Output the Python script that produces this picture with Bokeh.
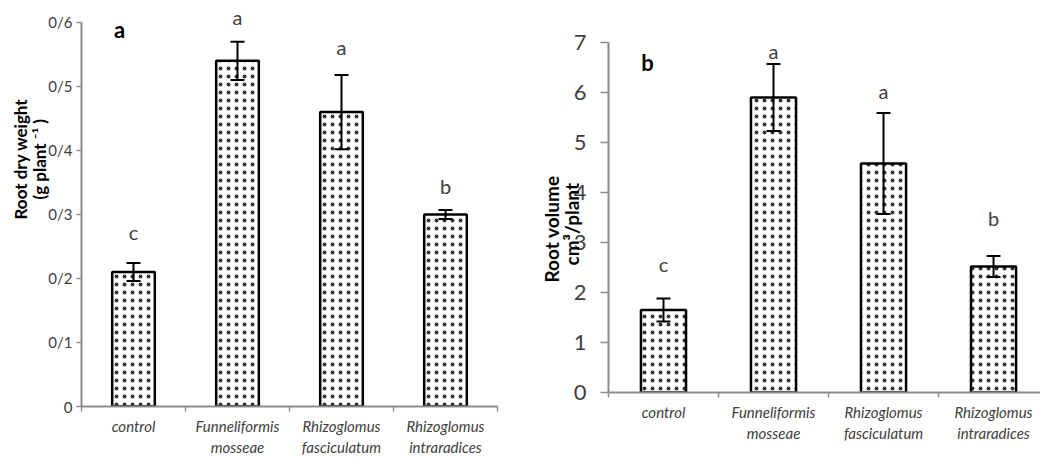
import math
from bokeh.plotting import figure
from bokeh.models import ColumnDataSource, Whisker, TeeHead, FixedTicker, Label, Range1d, Title
from bokeh.layouts import row, column
from bokeh.embed import file_html
from bokeh.resources import INLINE

# ---- data ----
categories = ["control", "Funneliformis\nmosseae", "Rhizoglomus\nfasciculatum", "Rhizoglomus\nintraradices"]
cat_pos = [0.5, 1.5, 2.5, 3.5]

dry_weight = [0.21, 0.54, 0.46, 0.30]
dry_weight_err = [0.014, 0.030, 0.058, 0.007]
dry_weight_letters = ["c", "a", "a", "b"]
dry_weight_letter_y = [0.273, 0.608, 0.562, 0.345]
dry_ticks = [0, 0.1, 0.2, 0.3, 0.4, 0.5, 0.6]
dry_tick_labels = ["0", "0/1", "0/2", "0/3", "0/4", "0/5", "0/6"]

volume = [1.65, 5.90, 4.58, 2.52]
volume_err = [0.23, 0.67, 1.01, 0.21]
volume_letters = ["c", "a", "a", "b"]
volume_letter_y = [2.58, 6.84, 6.04, 3.50]
vol_ticks = [0, 1, 2, 3, 4, 5, 6, 7]
vol_tick_labels = ["0", "1", "2", "3", "4", "5", "6", "7"]

FONT = "Lato"
AXIS_GRAY = "#8c8c8c"
TEXT = "#404040"
FRAME_TOP = 5


def make_panel(vals, errs, letters, letter_y, ticks, tick_labels, ymax, y0_px, ytop_px,
               xmax, width, left, right, tick_font, tick_out, tick_standoff,
               ylab_lines, ylab_offsets, ylab_font, ylab_standoffs, ylab_valign,
               panel_letter, panel_xy):
    scale = (y0_px - ytop_px) / ymax
    yhi = (y0_px - FRAME_TOP) / scale
    p = figure(width=width, height=459, output_backend="svg", toolbar_location=None,
               x_range=Range1d(0, xmax), y_range=Range1d(0, yhi),
               min_border_left=left, min_border_right=right,
               min_border_top=FRAME_TOP, min_border_bottom=459 - y0_px)
    p.outline_line_color = None
    p.grid.visible = False

    src = ColumnDataSource(dict(x=cat_pos, top=vals,
                                upper=[v + e for v, e in zip(vals, errs)],
                                lower=[v - e for v, e in zip(vals, errs)]))
    p.vbar(x="x", top="top", bottom=0, width=0.41, source=src, fill_color="white",
           line_color="black", line_width=2.5,
           hatch_pattern="dot", hatch_color="#333333", hatch_scale=8, hatch_weight=1.1)
    w = Whisker(base="x", upper="upper", lower="lower", source=src,
                line_color="black", line_width=2,
                upper_head=TeeHead(size=14, line_width=2, line_color="black"),
                lower_head=TeeHead(size=14, line_width=2, line_color="black"))
    w.level = "annotation"
    p.add_layout(w)

    for x, ly, t in zip(cat_pos, letter_y, letters):
        p.add_layout(Label(x=x, y=ly, text=t, text_align="center", text_baseline="middle",
                           text_font=FONT, text_font_size="20px", text_color=TEXT))

    # x axis
    xa = p.xaxis[0]
    xa.ticker = FixedTicker(ticks=cat_pos, minor_ticks=[0, 1, 2, 3, 4])
    xa.major_label_overrides = {c: lab for c, lab in zip(cat_pos, categories)}
    xa.major_tick_out = 0
    xa.major_tick_in = 0
    xa.minor_tick_out = 5
    xa.minor_tick_in = 0
    xa.minor_tick_line_color = AXIS_GRAY
    xa.minor_tick_line_width = 1.5
    xa.axis_line_color = AXIS_GRAY
    xa.axis_line_width = 2
    xa.major_label_text_font = FONT
    xa.major_label_text_font_style = "italic"
    xa.major_label_text_font_size = "15px"
    xa.major_label_text_color = TEXT
    xa.major_label_standoff = 5

    # y axis
    ya = p.yaxis[0]
    ya.bounds = (0, ymax)
    ya.ticker = FixedTicker(ticks=ticks)
    ya.major_label_overrides = {t: lab for t, lab in zip(ticks, tick_labels)}
    ya.minor_tick_out = 0
    ya.minor_tick_in = 0
    ya.major_tick_out = tick_out
    ya.major_tick_in = 0
    ya.major_tick_line_color = AXIS_GRAY
    ya.major_tick_line_width = 1.5
    ya.axis_line_color = AXIS_GRAY
    ya.axis_line_width = 2
    ya.major_label_text_font = FONT
    ya.major_label_text_font_size = tick_font
    ya.major_label_text_color = TEXT
    ya.major_label_standoff = tick_standoff

    # y axis title lines (inner line first)
    for line, off, so, va in zip(reversed(ylab_lines), reversed(ylab_offsets),
                                 reversed(ylab_standoffs), reversed(ylab_valign)):
        p.add_layout(Title(text=line, align="left", offset=off, standoff=so,
                           vertical_align=va, text_font=FONT, text_font_style="bold",
                           text_font_size=ylab_font, text_color="black"), "left")

    p.add_layout(Label(x=panel_xy[0], y=panel_xy[1], x_units="screen", y_units="screen",
                       text=panel_letter, text_align="center", text_baseline="middle",
                       text_font=FONT, text_font_style="bold", text_font_size="22px",
                       text_color="black"))
    return p


p1 = make_panel(dry_weight, dry_weight_err, dry_weight_letters, dry_weight_letter_y,
                dry_ticks, dry_tick_labels, 0.6, 407, 22, 4.0, 520, 81, 23,
                "15px", 5, 4, ["Root dry weight", "(g plant \u207b\u00b9 )"], [187, 207],
                "17px", [4, -11], ["middle", "middle"],
                "a", (38, 407 - 30))
p2 = make_panel(volume, volume_err, volume_letters, volume_letter_y,
                vol_ticks, vol_tick_labels, 7.0, 392, 42, 3.927, 520, 88, 0,
                "22px", 8, 14, ["Root volume", "cm\u00b3/plant"], [110, 127],
                "19px", [14, -25], ["middle", "bottom"],
                "b", (39, 392 - 62))

layout = row(column(p1), column(p2))
open("out.html", "w").write(file_html(layout, INLINE))
